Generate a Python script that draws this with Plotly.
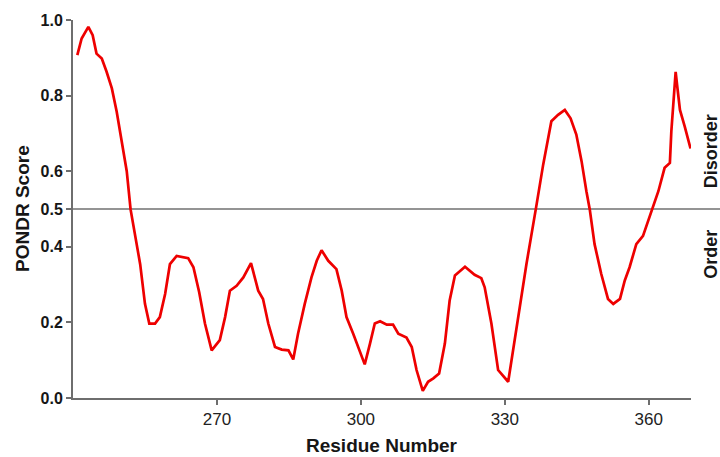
import plotly.graph_objects as go

residues = [240.9, 241.8, 243.2, 244.1, 244.9, 246.0, 247.0, 248.1, 249.1, 250.1,
            251.2, 252.0, 252.9, 254.0, 255.0, 255.9, 257.1, 258.1, 259.2, 260.2,
            261.6, 263.0, 264.0, 265.1, 266.3, 267.5, 268.9, 270.6, 271.7, 272.7,
            274.1, 275.5, 277.1, 278.6, 279.6, 280.7, 282.1, 283.5, 284.9, 285.9,
            286.9, 288.3, 289.7, 290.8, 291.8, 293.2, 294.9, 296.0, 297.0, 298.4,
            300.8, 301.9, 302.9, 304.0, 305.4, 306.7, 307.8, 309.5, 310.6, 311.6,
            312.9, 314.0, 315.1, 316.3, 317.5, 318.5, 319.6, 321.7, 323.7, 325.1,
            325.8, 327.2, 328.6, 330.7, 331.7, 333.1, 334.5, 336.5, 338.0, 339.7,
            341.1, 342.5, 343.7, 344.9, 346.0, 347.0, 347.7, 348.7, 350.1, 351.5,
            352.6, 354.0, 355.0, 356.0, 357.4, 358.8, 360.6, 362.0, 363.3, 364.4,
            364.7, 365.1, 365.6, 365.9, 366.5, 367.5, 368.7]
scores = [0.907, 0.951, 0.982, 0.960, 0.911, 0.898, 0.863, 0.819, 0.758, 0.688,
          0.600, 0.499, 0.433, 0.354, 0.249, 0.197, 0.197, 0.214, 0.275, 0.354,
          0.376, 0.372, 0.370, 0.346, 0.280, 0.197, 0.126, 0.153, 0.214, 0.284,
          0.297, 0.319, 0.357, 0.284, 0.262, 0.197, 0.135, 0.128, 0.126, 0.102,
          0.170, 0.249, 0.319, 0.363, 0.391, 0.363, 0.341, 0.284, 0.214, 0.170,
          0.089, 0.144, 0.197, 0.203, 0.194, 0.194, 0.170, 0.160, 0.135, 0.074,
          0.019, 0.043, 0.052, 0.065, 0.144, 0.258, 0.324, 0.347, 0.326, 0.317,
          0.293, 0.197, 0.074, 0.043, 0.126, 0.240, 0.354, 0.503, 0.618, 0.732,
          0.749, 0.762, 0.740, 0.697, 0.626, 0.547, 0.499, 0.407, 0.328, 0.262,
          0.249, 0.262, 0.311, 0.346, 0.407, 0.429, 0.495, 0.547, 0.609, 0.622,
          0.705, 0.776, 0.863, 0.828, 0.762, 0.718, 0.660]

x_ticks = [270, 300, 330, 360]
y_ticks = [0.0, 0.2, 0.4, 0.5, 0.6, 0.8, 1.0]
y_tick_labels = ["0.0", "0.2", "0.4", "0.5", "0.6", "0.8", "1.0"]
threshold = 0.5

FONT = "Liberation Sans, Arial, sans-serif"
AXIS_COLOR = "#6e6e6e"
TEXT_COLOR = "#161616"

PL, PR, PT, PB = 73, 691, 18, 398  # plot area in page pixels
PW, PH = PR - PL, PB - PT

fig = go.Figure()
fig.add_trace(go.Scatter(
    x=residues, y=scores, mode="lines",
    line=dict(color="#ee0000", width=2.7),
    showlegend=False, hoverinfo="skip",
))

fig.add_shape(type="line", xref="paper", yref="y",
              x0=0, x1=(720 - PL) / PW, y0=threshold, y1=threshold,
              line=dict(color="#707070", width=1.5), layer="below")

fig.update_layout(
    width=720, height=457,
    margin=dict(l=PL, r=720 - PR, t=PT, b=457 - PB, pad=0),
    paper_bgcolor="white", plot_bgcolor="white",
    font=dict(family=FONT, color=TEXT_COLOR),
    xaxis=dict(
        range=[240, 368.8], tickvals=x_ticks,
        ticks="outside", ticklen=5, tickwidth=1.5, tickcolor=AXIS_COLOR,
        showline=True, linecolor=AXIS_COLOR, linewidth=2,
        showgrid=False, zeroline=False,
        tickfont=dict(family=FONT, size=17, color="#222222"),
    ),
    yaxis=dict(
        range=[0, 1.0], tickvals=y_ticks, ticktext=[f"<b>{t}</b>" for t in y_tick_labels],
        ticks="outside", ticklen=5, tickwidth=1.5, tickcolor=AXIS_COLOR,
        showline=True, linecolor=AXIS_COLOR, linewidth=2,
        showgrid=False, zeroline=False,
        tickfont=dict(family=FONT, size=16, color=TEXT_COLOR),
    ),
    annotations=[
        dict(text="<b>Residue Number</b>", xref="paper", yref="paper",
             x=0.5, y=(PB - 446) / PH, xanchor="center", yanchor="middle",
             showarrow=False, font=dict(family=FONT, size=19, color=TEXT_COLOR)),
        dict(text="<b>PONDR Score</b>", xref="paper", yref="paper",
             x=(22 - PL) / PW, y=0.5, xanchor="center", yanchor="middle",
             textangle=-90, showarrow=False,
             font=dict(family=FONT, size=19, color=TEXT_COLOR)),
        dict(text="<b>Disorder</b>", xref="paper", yref="paper",
             x=(711 - PL) / PW, y=(PB - 150) / PH, xanchor="center", yanchor="middle",
             textangle=-90, showarrow=False,
             font=dict(family=FONT, size=18, color=TEXT_COLOR)),
        dict(text="<b>Order</b>", xref="paper", yref="paper",
             x=(711 - PL) / PW, y=(PB - 254) / PH, xanchor="center", yanchor="middle",
             textangle=-90, showarrow=False,
             font=dict(family=FONT, size=18, color=TEXT_COLOR)),
    ],
)

fig.write_html(
    "out.html",
    config={"displayModeBar": False},
    post_script="document.body.style.margin='0';document.body.style.overflow='hidden';",
)
